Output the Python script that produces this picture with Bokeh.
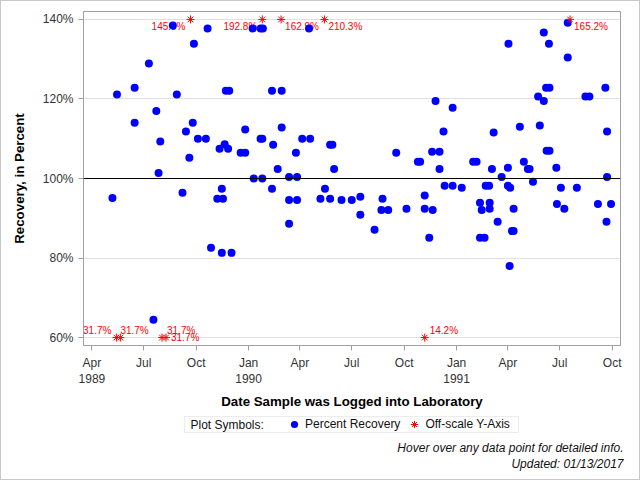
import pandas as pd
from bokeh.plotting import figure
from bokeh.layouts import column
from bokeh.models import (ColumnDataSource, Range1d, FixedTicker, PrintfTickFormatter,
                          Span, Legend, LegendItem, Label, BoxAnnotation, Plot)
from bokeh.core.properties import value
from bokeh.embed import file_html
from bokeh.resources import INLINE

# ---------------- data ----------------
recovery_dates = [
    "1989-05-07", "1989-05-15", "1989-06-15", "1989-06-15", "1989-07-10", "1989-07-18",
    "1989-07-23", "1989-07-27", "1989-07-30", "1989-08-21", "1989-08-28", "1989-09-07",
    "1989-09-13", "1989-09-19", "1989-09-25", "1989-09-27", "1989-10-04", "1989-10-18",
    "1989-10-21", "1989-10-27", "1989-11-07", "1989-11-11", "1989-11-15", "1989-11-15",
    "1989-11-17", "1989-11-20", "1989-11-22", "1989-11-26", "1989-11-28", "1989-12-02",
    "1989-12-18", "1989-12-26", "1989-12-26", "1990-01-08", "1990-01-10", "1990-01-22",
    "1990-01-22", "1990-01-25", "1990-01-25", "1990-01-26", "1990-02-11", "1990-02-11",
    "1990-02-13", "1990-02-21", "1990-02-28", "1990-02-28", "1990-03-13", "1990-03-13",
    "1990-03-13", "1990-03-25", "1990-03-27", "1990-03-27", "1990-04-05", "1990-04-17",
    "1990-04-19", "1990-05-07", "1990-05-15", "1990-05-24", "1990-05-24", "1990-05-28",
    "1990-05-31", "1990-06-13", "1990-07-01", "1990-07-16", "1990-07-16", "1990-08-10",
    "1990-08-22", "1990-08-24", "1990-09-03", "1990-09-17", "1990-10-05", "1990-10-25",
    "1990-10-29", "1990-11-06", "1990-11-06", "1990-11-14", "1990-11-19", "1990-11-20",
    "1990-11-25", "1990-12-02", "1990-12-02", "1990-12-09", "1990-12-11", "1990-12-25",
    "1990-12-25", "1991-01-10", "1991-01-30", "1991-02-05", "1991-02-11", "1991-02-11",
    "1991-02-14", "1991-02-19", "1991-02-21", "1991-02-27", "1991-02-28", "1991-02-28",
    "1991-03-04", "1991-03-07", "1991-03-14", "1991-03-21", "1991-04-01", "1991-04-01",
    "1991-04-02", "1991-04-04", "1991-04-05", "1991-04-08", "1991-04-11", "1991-04-11",
    "1991-04-22", "1991-04-29", "1991-05-06", "1991-05-09", "1991-05-15", "1991-05-24",
    "1991-05-27", "1991-06-03", "1991-06-03", "1991-06-07", "1991-06-08", "1991-06-12",
    "1991-06-13", "1991-06-13", "1991-06-25", "1991-06-26", "1991-07-03", "1991-07-09",
    "1991-07-15", "1991-07-15", "1991-07-31", "1991-08-15", "1991-08-22", "1991-09-06",
    "1991-09-19", "1991-09-21", "1991-09-22", "1991-09-22", "1991-09-29",
]
recovery_pct = [
    95.1, 121.1, 122.8, 114.0, 128.9, 64.5,
    117.0, 101.4, 109.3, 138.5, 121.1, 96.4,
    111.8, 105.2, 114.0, 133.9, 110.0, 110.0,
    137.7, 82.6, 94.9, 107.5, 97.4, 81.3,
    94.9, 108.6, 122.1, 107.5, 122.1, 81.3,
    106.5, 112.3, 106.5, 137.7, 100.0, 137.7,
    110.0, 100.0, 110.0, 137.7, 122.1, 97.4,
    108.5, 102.4, 122.1, 112.8, 100.4, 94.6,
    88.6, 106.5, 100.4, 94.6, 110.0, 137.7,
    110.0, 94.9, 97.4, 108.5, 94.9, 108.5,
    102.4, 94.6, 94.6, 95.4, 90.9, 87.1,
    92.1, 94.9, 92.1, 106.5, 92.4, 104.2,
    104.2, 95.7, 92.4, 85.1, 106.7, 92.1,
    119.5, 106.7, 102.4, 111.8, 98.2, 98.2,
    117.8, 97.7, 104.2, 104.2, 93.9, 85.1,
    92.1, 85.1, 98.2, 98.2, 93.9, 92.4,
    102.4, 111.6, 89.1, 100.4, 102.7, 98.2,
    133.9, 78.0, 97.7, 86.8, 92.4, 86.8,
    113.0, 104.2, 102.4, 102.4, 99.2, 120.6,
    113.3, 119.5, 136.7, 122.8, 107.0, 133.9,
    122.8, 107.0, 102.7, 93.6, 97.7, 92.4,
    139.2, 130.4, 97.7, 120.6, 120.6, 93.6,
    122.8, 89.1, 111.8, 100.4, 93.6,
]

offscale_dates = ["1989-05-14", "1989-05-21", "1989-08-02", "1989-08-09", "1990-11-06",
                  "1989-09-21", "1990-01-25", "1990-02-27", "1990-05-14", "1991-07-19"]
offscale_pct = [31.7, 31.7, 31.7, 31.7, 14.2, 145.3, 192.8, 162.9, 210.3, 165.2]
offscale_label_side = ["ul", "u", "ur", "r", "ur", "ll", "ll", "lr", "lr", "lr"]

y_ticks = [60, 80, 100, 120, 140]
x_tick_dates = ["1989-04-01", "1989-07-01", "1989-10-01", "1990-01-01", "1990-04-01",
                "1990-07-01", "1990-10-01", "1991-01-01", "1991-04-01", "1991-07-01",
                "1991-10-01"]
x_tick_labels = ["Apr\n1989", "Jul", "Oct", "Jan\n1990", "Apr", "Jul", "Oct",
                 "Jan\n1991", "Apr", "Jul", "Oct"]

legend_title = "Plot Symbols:"
legend_labels = ["Percent Recovery", "Off-scale Y-Axis"]
footnotes = ["Hover over any data point for detailed info.", "Updated: 01/13/2017"]

# ---------------- helpers ----------------
FONT = "Liberation Sans"
GREY = "#A0A0A0"
EDGE = "1px solid #C8C8C8"
TXT = "#111111"
BLUE = "#0000FF"
RED = "#FF0000"


def ms(d):
    return int(pd.Timestamp(d).value // 10**6)


y_lo, y_hi = min(y_ticks), max(y_ticks)
off_dt = pd.to_datetime(offscale_dates)
off_y = [min(max(v, y_lo), y_hi) for v in offscale_pct]

# ================= main plot =================
p = figure(width=640, height=411, x_axis_type="datetime",
           x_range=Range1d(pd.Timestamp("1989-03-17 06:00"), pd.Timestamp("1991-10-15 14:00")),
           y_range=Range1d(58.0, 142.0),
           output_backend="svg", toolbar_location=None,
           min_border_left=82, min_border_right=21, min_border_top=10, min_border_bottom=66)
p.styles = {"border-top": EDGE, "border-left": EDGE, "border-right": EDGE}
p.background_fill_color = "white"
p.border_fill_color = "white"
p.outline_line_color = GREY

p.xgrid.visible = False
p.ygrid.ticker = FixedTicker(ticks=y_ticks)
p.ygrid.grid_line_color = "#E0E0E0"

p.yaxis.ticker = FixedTicker(ticks=y_ticks)
p.yaxis.formatter = PrintfTickFormatter(format="%d%%")
p.xaxis.ticker = FixedTicker(ticks=[ms(d) for d in x_tick_dates])
p.xaxis.major_label_overrides = {ms(d): lab for d, lab in zip(x_tick_dates, x_tick_labels)}
p.xaxis.axis_label = "Date Sample was Logged into Laboratory"
p.yaxis.axis_label = "Recovery, in Percent"
for ax in (p.xaxis[0], p.yaxis[0]):
    ax.axis_line_color = GREY
    ax.major_tick_line_color = GREY
    ax.major_tick_out = 5
    ax.major_tick_in = 0
    ax.minor_tick_line_color = None
    ax.major_label_text_font = FONT
    ax.major_label_text_font_size = "12px"
    ax.major_label_text_color = "#333333"
    ax.axis_label_text_font = FONT
    ax.axis_label_text_font_size = "13.3px"
    ax.axis_label_text_font_style = "bold"
    ax.axis_label_text_color = "#000000"
p.xaxis.axis_label_standoff = 5
p.yaxis.axis_label_standoff = 13

p.add_layout(Span(location=100, dimension="width", line_color="black", line_width=1))

# off-scale labels (drawn first, under the markers)
SIDE = {"ul": ("right", -5, -7), "u": ("left", 0, -7), "ur": ("left", 5, -7),
        "r": ("left", 5, 0), "ll": ("right", -5, 7), "lr": ("left", 4, 7)}
for align in ("left", "right"):
    idx = [i for i, s in enumerate(offscale_label_side) if SIDE[s][0] == align]
    lsrc = ColumnDataSource(dict(
        x=[off_dt[i] for i in idx],
        y=[off_y[i] for i in idx],
        text=[f"{offscale_pct[i]:.1f}%" for i in idx],
        dx=[SIDE[offscale_label_side[i]][1] for i in idx],
        dy=[SIDE[offscale_label_side[i]][2] for i in idx],
    ))
    p.text(x="x", y="y", text="text", x_offset="dx", y_offset="dy", source=lsrc,
           text_align=align, text_baseline="middle", text_font=value(FONT),
           text_font_size=value("10px"), text_color=RED)

src = ColumnDataSource(dict(date=pd.to_datetime(recovery_dates), pct=recovery_pct))
p.scatter(x="date", y="pct", source=src, marker="circle", size=8,
          fill_color=BLUE, line_color=None)
osrc = ColumnDataSource(dict(date=off_dt, y=off_y))
p.scatter(x="date", y="y", source=osrc, marker="asterisk", size=8,
          line_color=RED, line_width=1)

# ================= legend / footnote strip =================
q = figure(width=640, height=69, x_range=Range1d(0, 1), y_range=Range1d(0, 1),
           x_axis_location=None, y_axis_location=None,
           output_backend="svg", toolbar_location=None,
           min_border_left=0, min_border_right=0, min_border_top=0, min_border_bottom=0)
q.styles = {"border-bottom": EDGE, "border-left": EDGE, "border-right": EDGE}
q.grid.visible = False
q.outline_line_color = None
q.background_fill_color = "white"
q.border_fill_color = "white"

# keep each plot's frame independent (otherwise the strip's frame is aligned to the plot's)
if "frame_align" in Plot.properties():
    p.frame_align = False
    q.frame_align = False
    ox = 0
else:
    ox = -82

# key glyphs: same sources as the plot, they lie outside this strip's ranges
key_dot = q.scatter(x="date", y="pct", source=src, marker="circle", size=8,
                    fill_color=BLUE, line_color=None)
key_star = q.scatter(x="date", y="y", source=osrc, marker="asterisk", size=8,
                     line_color=RED, line_width=1)

q.add_layout(BoxAnnotation(left=183 + ox, right=517 + ox, top=64, bottom=48,
                           left_units="screen", right_units="screen",
                           top_units="screen", bottom_units="screen",
                           fill_color=None, line_color="#C0C0C0", line_width=1))
q.add_layout(Label(x=189 + ox, y=56, x_units="screen", y_units="screen", text=legend_title,
                   text_font=FONT, text_font_size="12px", text_color=TXT,
                   text_baseline="middle"))
q.add_layout(Legend(items=[LegendItem(label=legend_labels[0], renderers=[key_dot]),
                           LegendItem(label=legend_labels[1], renderers=[key_star])],
                    location=(284 + ox, 47), orientation="horizontal",
                    padding=0, margin=0, spacing=5, label_standoff=2,
                    glyph_width=18, glyph_height=18, label_height=18,
                    border_line_color=None, background_fill_alpha=0,
                    label_text_font=FONT, label_text_font_size="12px",
                    label_text_color=TXT))
for note, yy in zip(footnotes, (33, 17)):
    q.add_layout(Label(x=622 + ox, y=yy, x_units="screen", y_units="screen", text=note,
                       text_font=FONT, text_font_size="12px", text_font_style="italic",
                       text_color=TXT, text_align="right", text_baseline="middle"))

open("out.html", "w").write(file_html(column(p, q, spacing=0), INLINE))
